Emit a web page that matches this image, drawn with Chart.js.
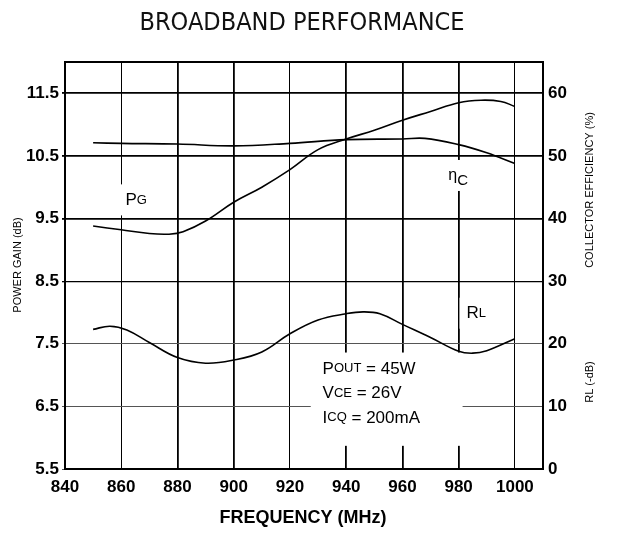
<!DOCTYPE html>
<html>
<head>
<meta charset="utf-8">
<script src="https://cdn.jsdelivr.net/npm/chart.js@4.4.1/dist/chart.umd.min.js"></script>
<style>
  html, body { margin: 0; padding: 0; background: #fff; }
</style>
</head>
<body>
<canvas id="chart" width="617" height="536"></canvas>
<script>
// tick labels
const freqTicks = [840, 860, 880, 900, 920, 940, 960, 980, 1000];
const gainTicks = [5.5, 6.5, 7.5, 8.5, 9.5, 10.5, 11.5];
const effTicks = [0, 10, 20, 30, 40, 50, 60];

// power gain (dB), left axis
const pgFreq = [850, 860, 870, 877, 882, 890, 900, 910, 920, 930, 940, 950, 960, 970, 980, 988, 995, 1000];
const pgGain = [9.38, 9.32, 9.26, 9.25, 9.29, 9.46, 9.76, 10.0, 10.28, 10.6, 10.77, 10.91, 11.07, 11.21, 11.35, 11.39, 11.37, 11.29];

// collector efficiency (%), right axis
const effFreq = [850, 860, 880, 900, 920, 940, 960, 968, 980, 990, 1000];
const effVals = [52.1, 52.0, 51.9, 51.6, 52.0, 52.6, 52.7, 52.8, 51.8, 50.5, 48.8];

// return loss (-dB), right axis
const rlFreq = [850, 856, 862, 870, 880, 890, 900, 910, 920, 930, 940, 946, 952, 960, 970, 980, 985, 990, 1000];
const rlVals = [22.3, 22.8, 22.2, 20.2, 17.8, 16.9, 17.4, 18.7, 21.6, 23.8, 24.8, 25.1, 24.8, 23.1, 21.0, 18.8, 18.5, 18.9, 20.8];

const toPts = (xs, ys) => xs.map((x, i) => ({ x: x, y: ys[i] }));

const FONT = '"Liberation Sans", Arial, sans-serif';

// curve labels, in data coordinates of the left axis
const curveLabels = [
  { x: 861.5, y: 9.79, parts: [['P', 17, 0], ['G', 13, 0]] },
  { x: 976.3, y: 10.18, parts: [['\u03b7', 16, 0], ['C', 15, 5]] },
  { x: 982.8, y: 7.98, parts: [['R', 17, 0], ['L', 13, 0]] }
];
const noteLines = [
  [['P', 17, 0], ['OUT', 13, 0], [' = 45W', 17, 0]],
  [['V', 17, 0], ['CE', 13, 0], [' = 26V', 17, 0]],
  [['I', 17, 0], ['CQ', 13, 0], [' = 200mA', 17, 0]]
];

function partsWidth(ctx, parts) {
  let w = 0;
  parts.forEach(p => { ctx.font = p[1] + 'px ' + FONT; w += ctx.measureText(p[0]).width; });
  return w;
}

function drawParts(ctx, x, y, parts) {
  let cx = x;
  parts.forEach(p => {
    ctx.font = p[1] + 'px ' + FONT;
    ctx.fillText(p[0], cx, y + p[2]);
    cx += ctx.measureText(p[0]).width;
  });
}

const decor = {
  id: 'decor',
  beforeDatasetsDraw(chart) {
    const ctx = chart.ctx;
    const xs = chart.scales.x, ys = chart.scales.y;
    ctx.save();
    ctx.fillStyle = '#fff';
    // knock grid lines out behind the labels
    curveLabels.forEach(l => {
      const w = partsWidth(ctx, l.parts);
      const px = xs.getPixelForValue(l.x), py = ys.getPixelForValue(l.y);
      ctx.fillRect(px - 7, py - 16, w + 12, 31);
    });
    const bx1 = xs.getPixelForValue(927.4), bx2 = xs.getPixelForValue(981.4);
    const by1 = ys.getPixelForValue(7.36), by2 = ys.getPixelForValue(5.87);
    ctx.fillRect(bx1, by1, bx2 - bx1, by2 - by1);
    ctx.restore();
  },
  afterDatasetsDraw(chart) {
    const ctx = chart.ctx;
    const xs = chart.scales.x, ys = chart.scales.y;
    const a = chart.chartArea;
    ctx.save();
    ctx.fillStyle = '#000';
    ctx.textBaseline = 'middle';
    ctx.textAlign = 'left';
    curveLabels.forEach(l => {
      drawParts(ctx, xs.getPixelForValue(l.x), ys.getPixelForValue(l.y), l.parts);
    });
    const tx = xs.getPixelForValue(931.6);
    noteLines.forEach((line, i) => {
      drawParts(ctx, tx, ys.getPixelForValue(7.10) + i * 24.5, line);
    });

    // frame
    ctx.strokeStyle = '#000';
    ctx.lineWidth = 2;
    ctx.strokeRect(a.left, a.top, a.right - a.left, a.bottom - a.top);

    // title, squeezed to the narrow face of the original
    ctx.fillStyle = '#111';
    ctx.font = '25px "DejaVu Sans", sans-serif';
    const title = 'BROADBAND PERFORMANCE';
    const tw = ctx.measureText(title).width;
    ctx.save();
    ctx.translate(302, 23);
    ctx.scale(325 / tw, 1);
    ctx.textAlign = 'center';
    ctx.fillText(title, 0, 0);
    ctx.restore();

    // axis titles
    ctx.fillStyle = '#000';
    ctx.textAlign = 'center';
    ctx.font = 'bold 18px ' + FONT;
    ctx.fillText('FREQUENCY (MHz)', 303, 518);

    ctx.font = '11px ' + FONT;
    const vText = (t, x, y) => {
      ctx.save();
      ctx.translate(x, y);
      ctx.rotate(-Math.PI / 2);
      ctx.fillText(t, 0, 0);
      ctx.restore();
    };
    vText('POWER GAIN (dB)', 18, 265);
    vText('COLLECTOR EFFICIENCY (%)', 590, 190);
    vText('RL (-dB)', 590, 382);
    ctx.restore();
  }
};

const lineStyle = {
  borderColor: '#000',
  borderWidth: 1.6,
  pointRadius: 0,
  fill: false,
  tension: 0.4
};

const tickFont = { family: FONT, size: 17, weight: 'bold' };

new Chart(document.getElementById('chart'), {
  type: 'line',
  data: {
    datasets: [
      Object.assign({ label: 'PG', data: toPts(pgFreq, pgGain), yAxisID: 'y' }, lineStyle),
      Object.assign({ label: 'ηC', data: toPts(effFreq, effVals), yAxisID: 'y1' }, lineStyle),
      Object.assign({ label: 'RL', data: toPts(rlFreq, rlVals), yAxisID: 'y1' }, lineStyle)
    ]
  },
  options: {
    responsive: false,
    animation: false,
    layout: { padding: { top: 62 } },
    plugins: {
      legend: { display: false },
      tooltip: { enabled: false }
    },
    scales: {
      x: {
        type: 'linear',
        min: 840,
        max: 1010,
        afterBuildTicks: s => { s.ticks = freqTicks.map(v => ({ value: v })); },
        afterFit: s => { s.height = 67; },
        border: { display: false },
        grid: {
          drawTicks: false,
          color: '#000',
          lineWidth: c => ([860, 920, 1000].includes(c.tick.value) ? 1 : 1.8)
        },
        ticks: {
          padding: 8,
          color: '#000',
          font: tickFont,
          callback: v => String(v)
        }
      },
      y: {
        position: 'left',
        min: 5.5,
        max: 12,
        afterBuildTicks: s => { s.ticks = gainTicks.map(v => ({ value: v })); },
        afterFit: s => { s.width = 65; },
        border: { display: false },
        grid: {
          tickLength: 3,
          color: c => (c.tick.value < 8 ? '#555' : '#000'),
          lineWidth: c => (c.tick.value > 9 ? 1.8 : (c.tick.value > 8 ? 1.3 : 1))
        },
        ticks: {
          padding: 3,
          color: '#000',
          font: tickFont,
          callback: v => v.toFixed(1)
        }
      },
      y1: {
        position: 'right',
        min: 0,
        max: 65,
        afterBuildTicks: s => { s.ticks = effTicks.map(v => ({ value: v })); },
        afterFit: s => { s.width = 74; },
        border: { display: false },
        grid: { drawOnChartArea: false, drawTicks: false },
        ticks: {
          padding: 5,
          color: '#000',
          font: tickFont
        }
      }
    }
  },
  plugins: [decor]
});
</script>
</body>
</html>
